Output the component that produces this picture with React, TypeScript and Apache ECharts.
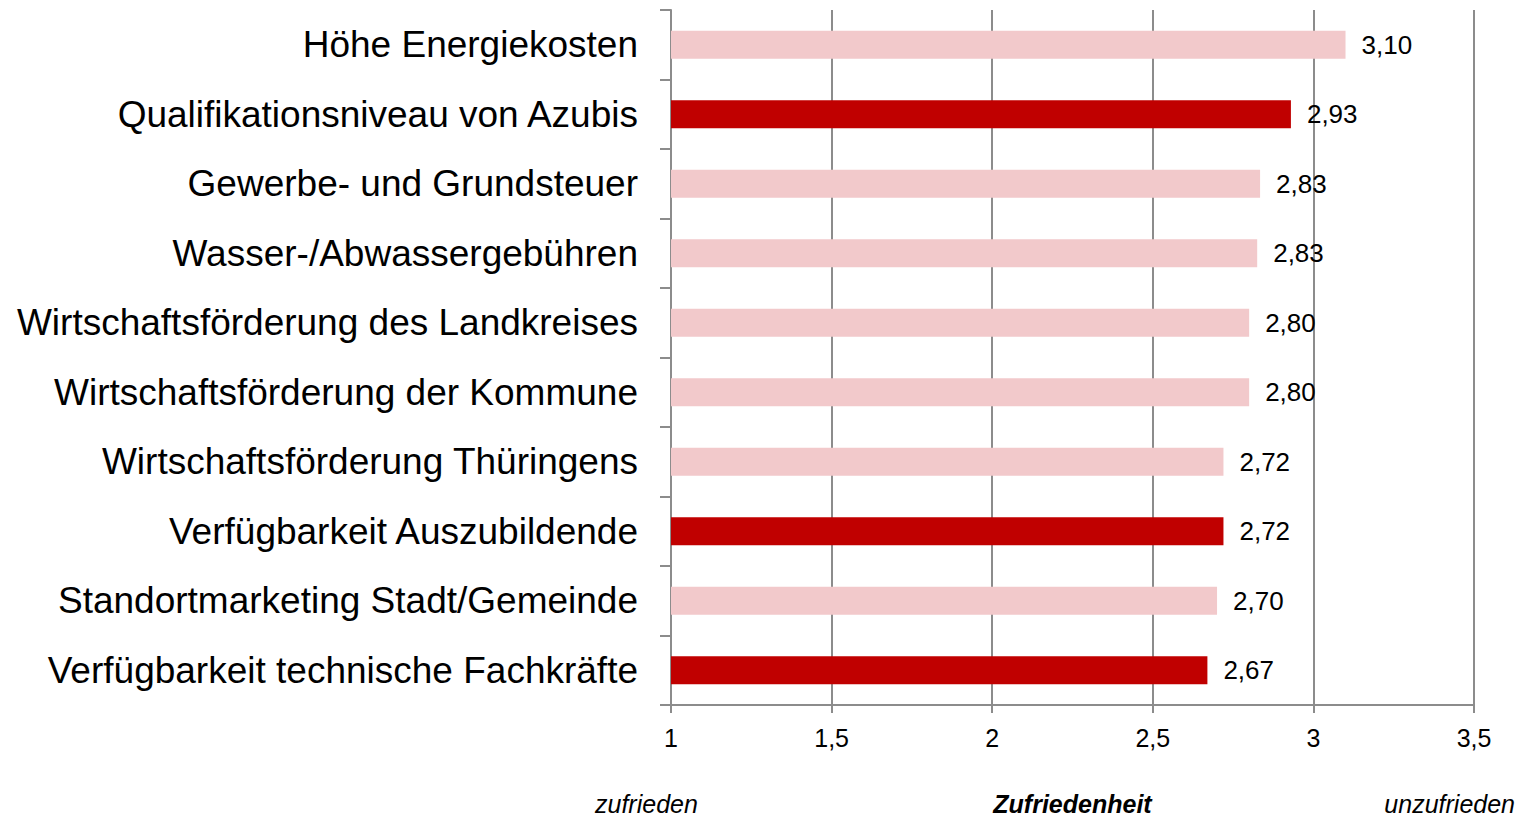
import React, { useEffect, useRef } from "react";
import * as echarts from "echarts";

const categories = [
  "Höhe Energiekosten",
  "Qualifikationsniveau von Azubis",
  "Gewerbe- und Grundsteuer",
  "Wasser-/Abwassergebühren",
  "Wirtschaftsförderung des Landkreises",
  "Wirtschaftsförderung der Kommune",
  "Wirtschaftsförderung Thüringens",
  "Verfügbarkeit Auszubildende",
  "Standortmarketing Stadt/Gemeinde",
  "Verfügbarkeit technische Fachkräfte",
];

const values = [3.1, 2.93, 2.834, 2.825, 2.8, 2.8, 2.72, 2.72, 2.7, 2.67];

const highlighted = [false, true, false, false, false, false, false, true, false, true];

const xTicks = { min: 1, max: 3.5, interval: 0.5 };

const axisTitle = "Zufriedenheit";
const leftNote = "zufrieden";
const rightNote = "unzufrieden";

const FONT = "'Liberation Sans', Arial, Helvetica, sans-serif";
const DARK = "#C00000";
const LIGHT = "#F2C9CB";
const GRAY = "#8C8C8C";

export default function App() {
  const ref = useRef<HTMLDivElement>(null);

  useEffect(() => {
    if (!ref.current) return;
    const chart = echarts.init(ref.current, undefined, { renderer: "svg" });
    chart.setOption({
      animation: false,
      backgroundColor: "#ffffff",
      grid: {
        left: 671,
        right: 55,
        top: 10,
        bottom: 113,
        containLabel: false,
        outerBoundsMode: "none",
      },
      xAxis: {
        type: "value",
        min: xTicks.min,
        max: xTicks.max,
        interval: xTicks.interval,
        name: axisTitle,
        nameLocation: "middle",
        nameGap: 86,
        nameTextStyle: {
          fontFamily: FONT,
          fontSize: 25,
          fontWeight: "bold",
          fontStyle: "italic",
          color: "#000",
        },
        axisLine: { show: true, lineStyle: { color: GRAY, width: 2 } },
        axisTick: { show: true, length: 8, lineStyle: { color: GRAY, width: 2 } },
        axisLabel: {
          margin: 20,
          fontFamily: FONT,
          fontSize: 25,
          color: "#000",
          formatter: (v: number) => String(v).replace(".", ","),
        },
        splitLine: { show: true, lineStyle: { color: GRAY, width: 2 } },
      },
      yAxis: {
        type: "category",
        data: categories,
        inverse: true,
        axisLine: { show: true, lineStyle: { color: GRAY, width: 2 } },
        axisTick: { show: true, length: 11, lineStyle: { color: GRAY, width: 2 } },
        axisLabel: {
          margin: 33,
          fontFamily: FONT,
          fontSize: 37,
          color: "#000",
        },
        splitLine: { show: false },
      },
      graphic: [
        {
          type: "text",
          left: 595,
          top: 791,
          style: {
            text: leftNote,
            fontFamily: FONT,
            fontSize: 25,
            fontStyle: "italic",
            fill: "#000",
          },
        },
        {
          type: "text",
          right: 14,
          top: 791,
          style: {
            text: rightNote,
            fontFamily: FONT,
            fontSize: 25,
            fontStyle: "italic",
            fill: "#000",
          },
        },
      ],
      series: [
        {
          type: "bar",
          barWidth: 28,
          data: values.map((v, i) => ({
            value: v,
            itemStyle: { color: highlighted[i] ? DARK : LIGHT },
          })),
          label: {
            show: true,
            position: "right",
            distance: 16,
            fontFamily: FONT,
            fontSize: 26,
            color: "#000",
            formatter: (p: any) => Number(p.value).toFixed(2).replace(".", ","),
          },
        },
      ],
    });
    return () => chart.dispose();
  }, []);

  return (
    <div
      ref={ref}
      style={{ position: "fixed", left: 0, top: 0, width: 1529, height: 818 }}
    />
  );
}
